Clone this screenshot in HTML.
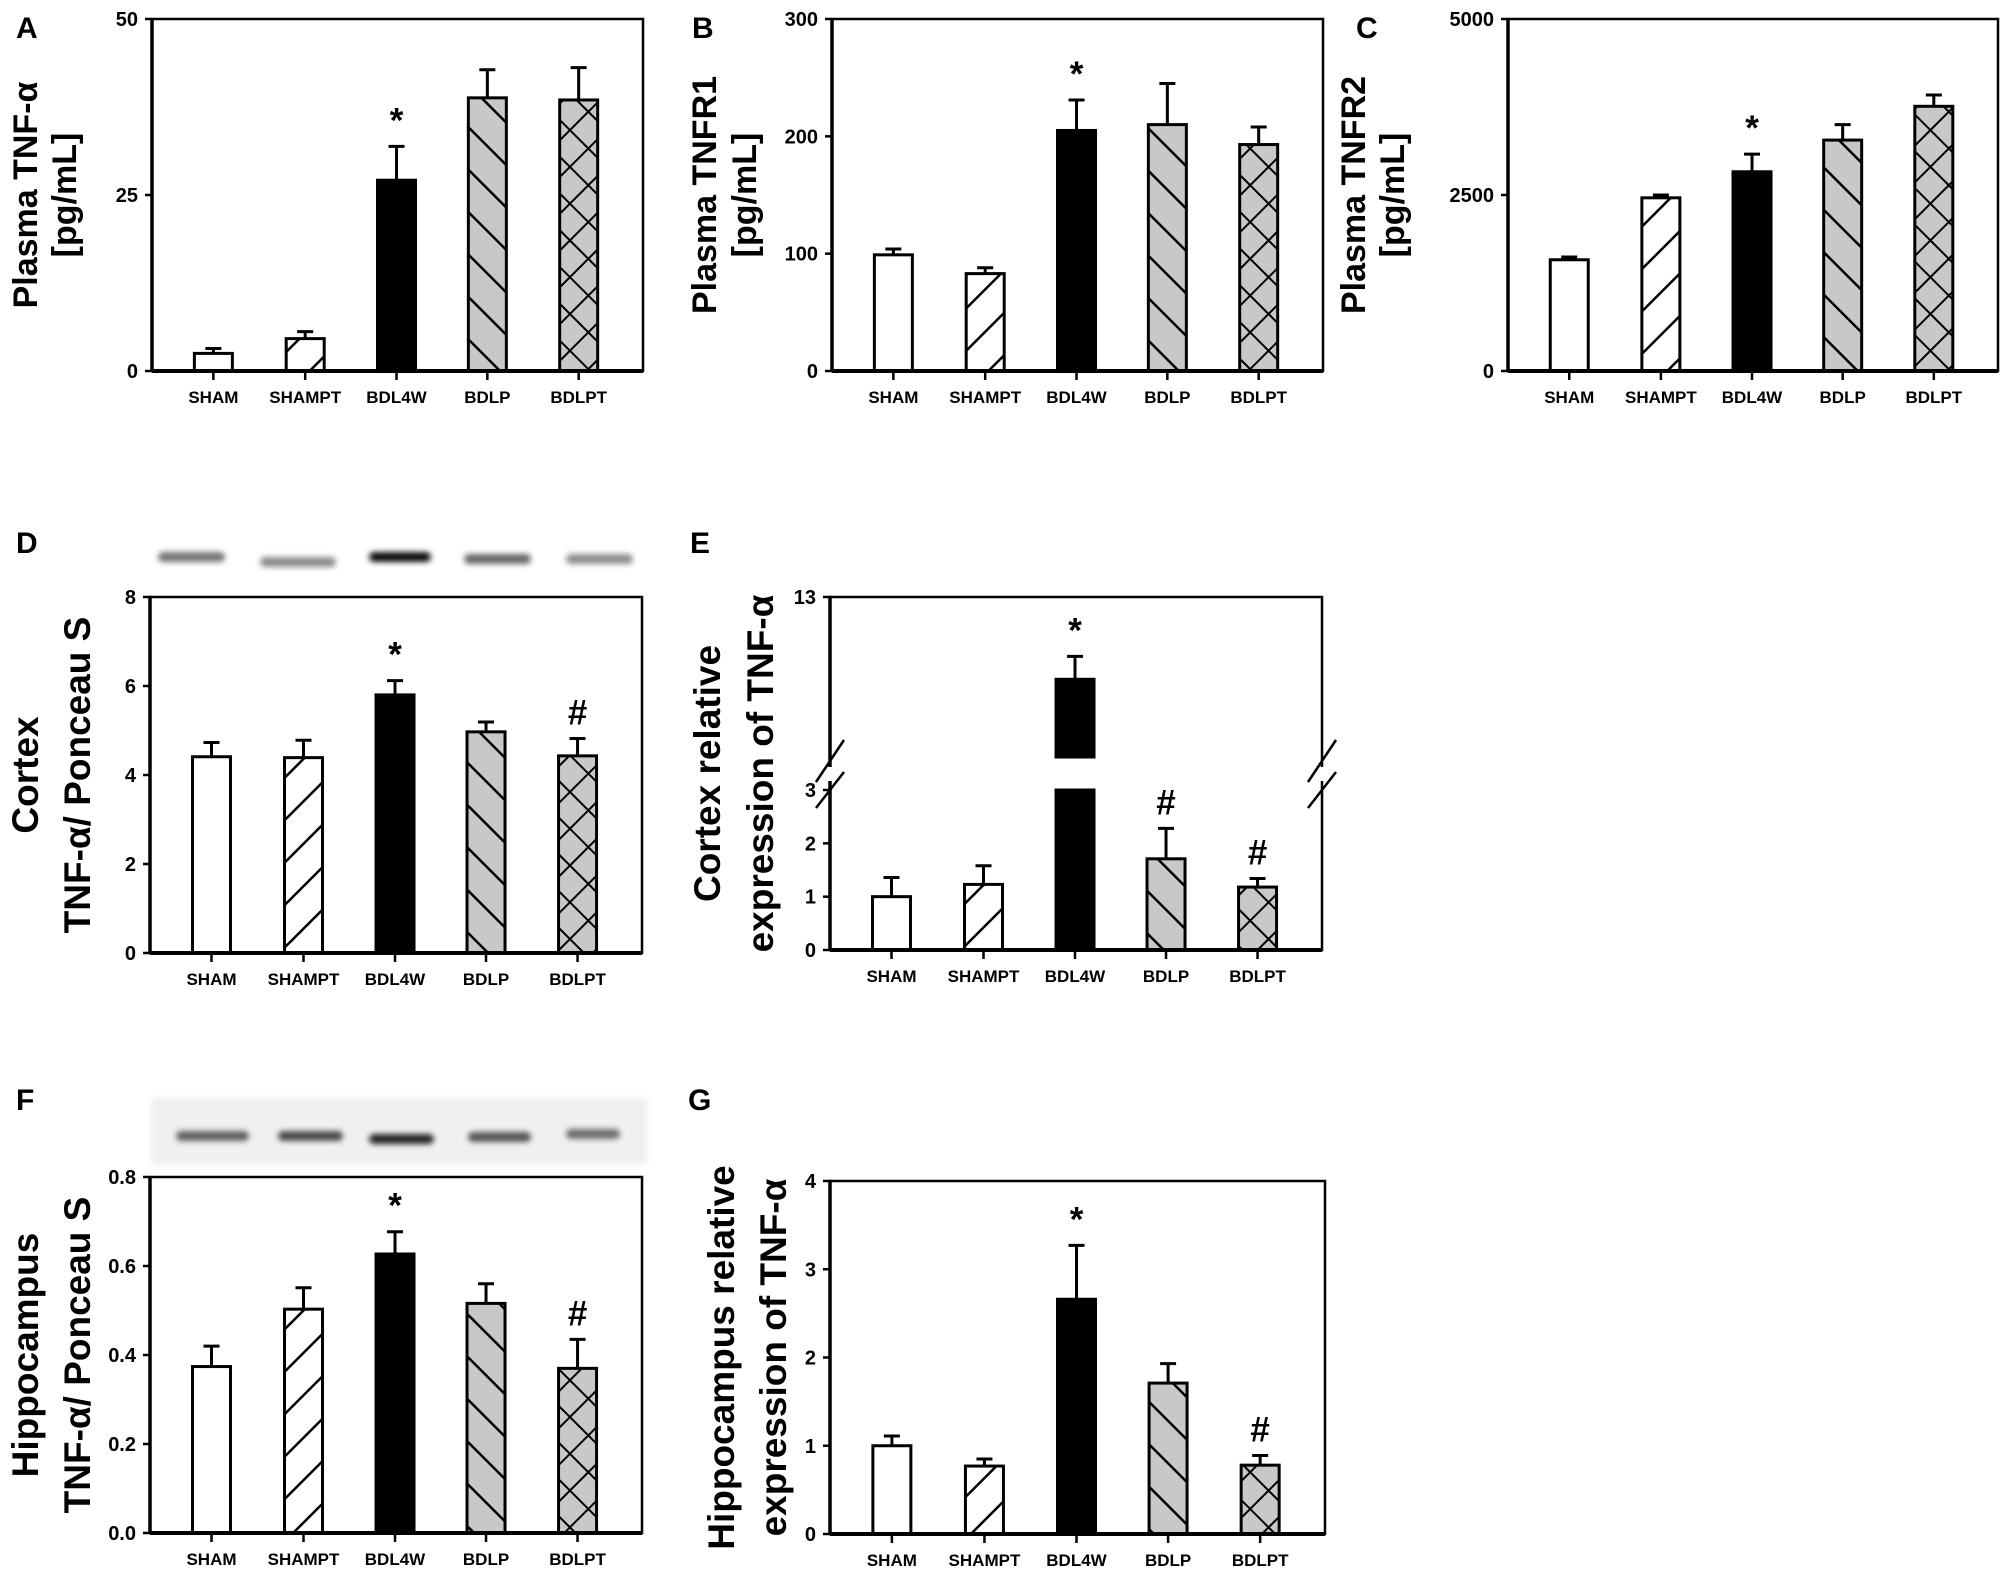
<!DOCTYPE html>
<html><head><meta charset="utf-8"><title>TNF-alpha panels</title>
<style>
html,body{margin:0;padding:0;background:#fff;}
svg{display:block;font-family:"Liberation Sans",Arial,sans-serif;}
</style></head>
<body>
<svg id="fig" xmlns="http://www.w3.org/2000/svg" width="2008" height="1575" viewBox="0 0 2008 1575">
<defs>
  <pattern id="hFwd" patternUnits="userSpaceOnUse" width="30" height="30" patternTransform="rotate(45)">
    <line x1="0" y1="0" x2="0" y2="30" stroke="#000" stroke-width="5"/>
  </pattern>
  <pattern id="hBack" patternUnits="userSpaceOnUse" width="30" height="30" patternTransform="rotate(-45)">
    <rect width="30" height="30" fill="#c8c8c8"/>
    <line x1="0" y1="0" x2="0" y2="30" stroke="#000" stroke-width="5"/>
  </pattern>
  <pattern id="hCross" patternUnits="userSpaceOnUse" width="26" height="26" patternTransform="rotate(45)">
    <rect width="26" height="26" fill="#c8c8c8"/>
    <line x1="0" y1="0" x2="0" y2="26" stroke="#000" stroke-width="4"/>
    <line x1="0" y1="0" x2="26" y2="0" stroke="#000" stroke-width="4"/>
  </pattern>
  <filter id="blur" x="-20%" y="-100%" width="140%" height="300%"><feGaussianBlur stdDeviation="3"/></filter>
</defs>
<g id="root"></g>
</svg>
<script>
const categories = ["SHAM","SHAMPT","BDL4W","BDLP","BDLPT"];
const fills = ["#fff","url(#hFwd)","#000","url(#hBack)","url(#hCross)"];
const groupFractions = [0.125,0.312,0.498,0.683,0.869];

const valuesA = [2.5,4.6,27.1,38.8,38.5];
const errorsA = [0.7,1.0,4.8,4.0,4.6];
const marksA = ["","","*","",""];
const ticksA = [0,25,50];

const valuesB = [99,83,205,210,193];
const errorsB = [5,5,26,35,15];
const marksB = ["","","*","",""];
const ticksB = [0,100,200,300];

const valuesC = [1580,2460,2830,3280,3760];
const errorsC = [40,40,250,220,160];
const marksC = ["","","*","",""];
const ticksC = [0,2500,5000];

const valuesD = [4.41,4.39,5.80,4.97,4.43];
const errorsD = [0.32,0.39,0.32,0.22,0.39];
const marksD = ["","","*","","#"];
const ticksD = [0,2,4,6,8];

const valuesE = [1.0,1.23,9.4,1.71,1.18];
const errorsE = [0.36,0.35,1.0,0.57,0.16];
const marksE = ["","","*","#","#"];
const ticksELow = [0,1,2,3];
const ticksEHigh = [13];

const valuesF = [0.374,0.503,0.627,0.516,0.370];
const errorsF = [0.046,0.048,0.050,0.044,0.065];
const marksF = ["","","*","","#"];
const ticksF = [0.0,0.2,0.4,0.6,0.8];
const tickLabelsF = ["0.0","0.2","0.4","0.6","0.8"];

const valuesG = [1.0,0.77,2.66,1.71,0.78];
const errorsG = [0.11,0.08,0.61,0.22,0.11];
const marksG = ["","","*","","#"];
const ticksG = [0,1,2,3,4];

const blotD = [0.55,0.45,0.95,0.6,0.45];
const blotF = [0.6,0.7,0.85,0.65,0.55];

const NS = "http://www.w3.org/2000/svg";
const root = document.getElementById("root");
function el(tag, attrs, parent, text){
  const e = document.createElementNS(NS, tag);
  for (const k in attrs) e.setAttribute(k, attrs[k]);
  if (text !== undefined) e.textContent = text;
  (parent || root).appendChild(e);
  return e;
}
function makeLinear(d0,d1,r0,r1){ return v => r0 + (v-d0)/(d1-d0)*(r1-r0); }

function drawPanel(p){
  const g = el("g", {}, root);
  
  
  const L=p.left,R=p.right,T=p.top,B=p.bottom,W=R-L;
  const xs = groupFractions.map(f => L + W*f);
  const bw = 38;
  p.values.forEach((v,i)=>{
    const yv = p.y(v), x = xs[i]-bw/2;
    if (p.breakLow !== undefined && v > p.breakLow){
      const r1 = el("rect",{x:x,y:p.y(p.breakLow),width:bw,height:B-p.y(p.breakLow),fill:fills[i],stroke:"#000","stroke-width":3},g);
      
      
      const r2 = el("rect",{x:x,y:yv,width:bw,height:p.breakHighY-yv,fill:fills[i],stroke:"#000","stroke-width":3},g);
      
      
    } else {
      const r = el("rect",{x:x,y:yv,width:bw,height:B-yv,fill:fills[i],stroke:"#000","stroke-width":3},g);
      
      
    }
    const ye = p.y(v + p.errors[i]);
    const eb = el("path",{d:`M${xs[i]},${yv} V${ye} M${xs[i]-8},${ye} H${xs[i]+8}`,stroke:"#000","stroke-width":3,fill:"none"},g);
    
    
    if (p.marks[i]){
      const m = el("text",{x:xs[i],y:ye-27+13,"text-anchor":"middle","font-size":35,"font-weight":"bold"},g,p.marks[i]);
      
      
    }
    const lab = el("text",{x:xs[i],y:B+32,"text-anchor":"middle","font-size":17,"font-weight":"bold"},g,categories[i]);
    
    
    el("line",{x1:xs[i],y1:B,x2:xs[i],y2:B+9,stroke:"#000","stroke-width":2.5},g);
  });
  const fr = el("rect",{x:L,y:T,width:W,height:B-T,fill:"none",stroke:"#000","stroke-width":2.5},g);
  
  
  el("line",{x1:L,y1:B,x2:R,y2:B,stroke:"#000","stroke-width":4},g);
  el("line",{x1:L,y1:T,x2:L,y2:B,stroke:"#000","stroke-width":3.5},g);
  p.ticks.forEach((t,i)=>{
    const yy = p.y(t);
    el("line",{x1:L-7,y1:yy,x2:L,y2:yy,stroke:"#000","stroke-width":2.5},g);
    const tl = el("text",{x:L-14,y:yy+7,"text-anchor":"end","font-size":20,"font-weight":"bold"},g,p.tickLabels?p.tickLabels[i]:String(t));
    
    
  });
  const cy = (T+B)/2;
  p.title.forEach((line,i)=>{
    const tx = p.titleX[i];
    const tt = el("text",{x:0,y:0,transform:`translate(${tx},${cy}) rotate(-90)`,"text-anchor":"middle","font-size":p.titleSize,"font-weight":"bold"},g,line);
    
    
  });
  const pl = el("text",{x:p.letter[0],y:p.letter[1],"font-size":30,"font-weight":"bold"},g,p.id);
  
  
  return {g, xs};
}

function drawBlot(x0,x1,y,intensity,bandY,bg){
  const g = el("g",{},root);
  
  
  if (bg) el("rect",{x:bg[0],y:bg[1],width:bg[2],height:bg[3],fill:"#f0f0f0",filter:"url(#blur)"},g);
  intensity.forEach((a,i)=>{
    const b = el("rect",{x:x0[i],y:bandY[i]-5,width:x1[i]-x0[i],height:10,rx:5,fill:"#000","fill-opacity":a,filter:"url(#blur)"},g);
    
    
  });
}

drawPanel({id:"A",left:152,right:643,top:19,bottom:371,y:makeLinear(0,50,371,19),
  values:valuesA,errors:errorsA,marks:marksA,ticks:ticksA,
  title:["Plasma TNF-\u03b1","[pg/mL]"],titleX:[37,76],titleSize:34,letter:[16,38]});
drawPanel({id:"B",left:832,right:1323,top:19,bottom:371,y:makeLinear(0,300,371,19),
  values:valuesB,errors:errorsB,marks:marksB,ticks:ticksB,
  title:["Plasma TNFR1","[pg/mL]"],titleX:[716,756],titleSize:34,letter:[692,38]});
drawPanel({id:"C",left:1508,right:1998,top:19,bottom:371,y:makeLinear(0,5000,371,19),
  values:valuesC,errors:errorsC,marks:marksC,ticks:ticksC,
  title:["Plasma TNFR2","[pg/mL]"],titleX:[1365,1404],titleSize:34,letter:[1356,38]});
drawBlot([158,260,369,464,566],[225,336,431,531,633],0,blotD,[557,562,557,559,559],null);
drawPanel({id:"D",left:150,right:642,top:597,bottom:953,y:makeLinear(0,8,953,597),
  values:valuesD,errors:errorsD,marks:marksD,ticks:ticksD,
  title:["Cortex","TNF-\u03b1/ Ponceau S"],titleX:[38,90],titleSize:37,letter:[16,553]});
(function(){
  const yLow = makeLinear(0,3,950,790), yHigh = makeLinear(6,13,757,597);
  const yE = v => v <= 3 ? yLow(v) : yHigh(v);
  const L=830,R=1322,T=597,B=950;
  const res = drawPanel({id:"E",left:L,right:R,top:T,bottom:B,y:yE,breakLow:3,breakHighY:757,
    values:valuesE,errors:errorsE,marks:marksE,ticks:ticksELow.concat(ticksEHigh),
    title:["Cortex relative","expression of  TNF-\u03b1"],titleX:[720,773],titleSize:37,letter:[690,553]});
  el("rect",{x:L-4,y:767,width:8,height:14,fill:"#fff"},res.g);
  el("rect",{x:R-4,y:767,width:8,height:14,fill:"#fff"},res.g);
  [L,R].forEach(x=>{
    const bk = el("path",{d:`M${x-14},${782} L${x+14},${740} M${x-14},${808} L${x+14},${772}`,stroke:"#000","stroke-width":2.5,fill:"none"},res.g);
    
    
  });
})();
drawBlot([176,278,369,468,566],[249,343,434,531,620],0,blotF,[1136,1136,1139,1137,1134],[151,1098,496,67]);
drawPanel({id:"F",left:150,right:642,top:1177,bottom:1533,y:makeLinear(0,0.8,1533,1177),
  values:valuesF,errors:errorsF,marks:marksF,ticks:ticksF,tickLabels:tickLabelsF,
  title:["Hippocampus","TNF-\u03b1/ Ponceau S"],titleX:[38,90],titleSize:37,letter:[16,1110]});
drawPanel({id:"G",left:830,right:1325,top:1181,bottom:1534,y:makeLinear(0,4,1534,1181),
  values:valuesG,errors:errorsG,marks:marksG,ticks:ticksG,
  title:["Hippocampus relative","expression of  TNF-\u03b1"],titleX:[734,786],titleSize:37,letter:[688,1110]});
</script>
</body></html>
